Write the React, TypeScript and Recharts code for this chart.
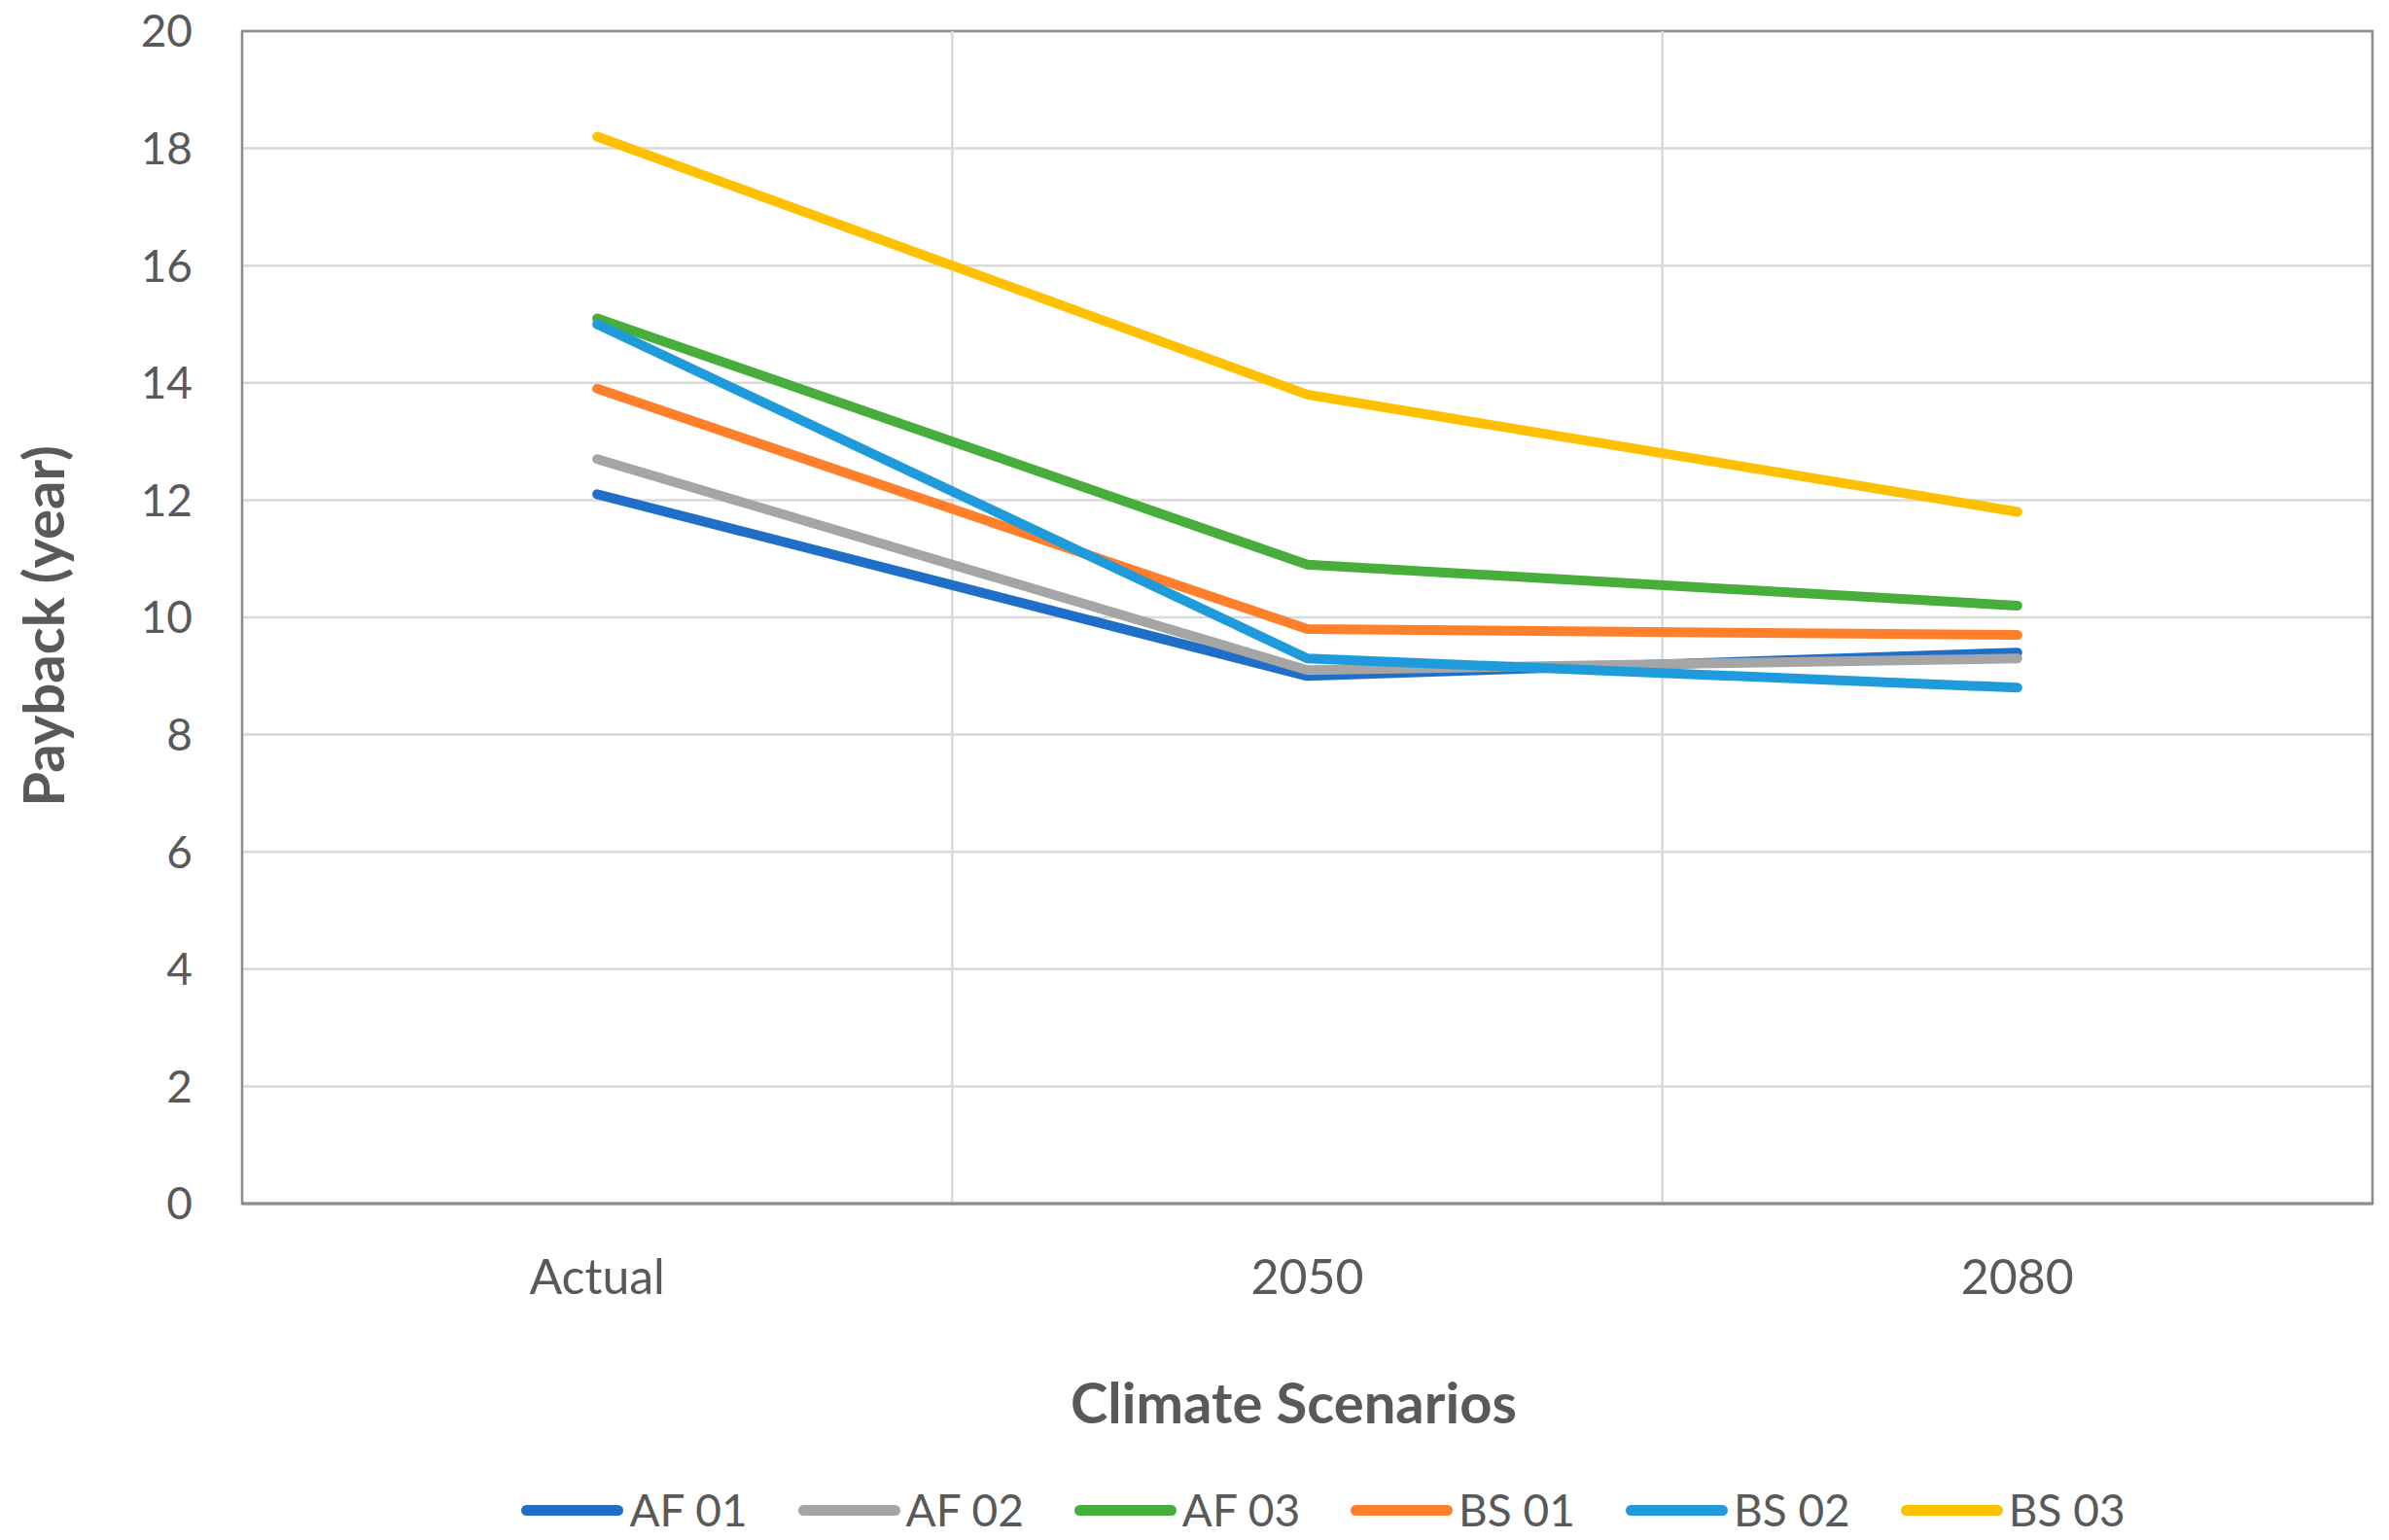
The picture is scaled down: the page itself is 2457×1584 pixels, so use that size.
import React from 'react';
import {
  LineChart,
  Line,
  XAxis,
  YAxis,
  CartesianGrid,
  ReferenceLine,
  ReferenceArea,
  Legend,
} from 'recharts';

const categories = ['Actual', '2050', '2080'];
const af01 = [12.1, 9.0, 9.4];
const af02 = [12.7, 9.1, 9.3];
const af03 = [15.1, 10.9, 10.2];
const bs01 = [13.9, 9.8, 9.7];
const bs02 = [15.0, 9.3, 8.8];
const bs03 = [18.2, 13.8, 11.8];
const yTicks = [0, 2, 4, 6, 8, 10, 12, 14, 16, 18, 20];
const seriesNames = ['AF 01', 'AF 02', 'AF 03', 'BS 01', 'BS 02', 'BS 03'];
const seriesValues = [af01, af02, af03, bs01, bs02, bs03];
const seriesColors = ['#1F6FC9', '#A5A5A5', '#47AD3B', '#FF7F2A', '#1F9ADB', '#FFC000'];
// category index positions and band edges on the index axis
const categoryIndex = [0, 1, 2];
const xDomain = [-0.5, 2.5];
const bandBoundaries = [0.5, 1.5];

const data = categories.map((category, i) => {
  const row: Record<string, string | number> = { category, pos: categoryIndex[i] };
  seriesNames.forEach((name, s) => {
    row[name] = seriesValues[s][i];
  });
  return row;
});

const FONT = 'Lato, "Open Sans", sans-serif';
const TEXT = '#595959';

const YTitle = (props: any) => {
  const { viewBox } = props;
  const cx = viewBox.x + 35;
  const cy = viewBox.y + viewBox.height / 2 + 9;
  return (
    <text
      x={cx}
      y={cy}
      transform={`rotate(-90 ${cx} ${cy})`}
      textAnchor="middle"
      dominantBaseline="central"
      fontFamily={FONT}
      fontWeight={700}
      fontSize={58}
      fill={TEXT}
    >
      Payback (year)
    </text>
  );
};

const XTitle = (props: any) => {
  const { viewBox } = props;
  const cx = viewBox.x + viewBox.width / 2 - 14;
  const cy = viewBox.y + 203;
  return (
    <text
      x={cx}
      y={cy}
      textAnchor="middle"
      dominantBaseline="central"
      fontFamily={FONT}
      fontWeight={700}
      fontSize={58}
      fill={TEXT}
    >
      Climate Scenarios
    </text>
  );
};

const LegendContent = (props: any) => {
  const { payload } = props;
  return (
    <div
      style={{
        display: 'flex',
        justifyContent: 'center',
        alignItems: 'center',
        height: 46,
        paddingLeft: 274,
        fontFamily: FONT,
        fontSize: 46,
        color: TEXT,
      }}
    >
      {(payload || []).map((entry: any, i: number) => (
        <div
          key={entry.value}
          style={{ display: 'flex', alignItems: 'center', marginLeft: i === 0 ? 0 : 52 }}
        >
          <div
            style={{
              width: 105,
              height: 11,
              borderRadius: 6,
              background: entry.color,
              marginRight: 6,
            }}
          />
          <span style={{ lineHeight: '46px' }}>{entry.value}</span>
        </div>
      ))}
    </div>
  );
};

export default function App() {
  return (
    <LineChart
      width={2441}
      height={1568}
      data={data}
      margin={{ top: 24, right: 9, bottom: 0, left: 0 }}
    >
      <CartesianGrid vertical={false} stroke="#D9D9D9" strokeWidth={2.5} />
      <XAxis
        dataKey="pos"
        type="number"
        domain={xDomain}
        allowDataOverflow
        ticks={categoryIndex}
        interval={0}
        tickFormatter={(v: number) => categories[v] ?? ''}
        height={292}
        tickLine={false}
        tickSize={0}
        tickMargin={57}
        axisLine={{ stroke: '#8C8C8C', strokeWidth: 3 }}
        tick={{ fontFamily: FONT, fontSize: 50, fill: TEXT }}
        label={<XTitle />}
      />
      <YAxis
        width={241}
        domain={[0, 20]}
        ticks={yTicks}
        interval={0}
        tickLine={false}
        tickSize={0}
        tickMargin={51}
        axisLine={false}
        tick={{ fontFamily: FONT, fontSize: 46, fill: TEXT }}
        label={<YTitle />}
      />
      {bandBoundaries.map((b) => (
        <ReferenceLine key={b} x={b} stroke="#D9D9D9" strokeWidth={2.5} />
      ))}
      <ReferenceArea
        x1={xDomain[0]}
        x2={xDomain[1]}
        y1={0}
        y2={20}
        fill="none"
        fillOpacity={0}
        stroke="#8C8C8C"
        strokeWidth={2.5}
      />
      {seriesNames.map((name, s) => (
        <Line
          key={name}
          dataKey={name}
          name={name}
          stroke={seriesColors[s]}
          strokeWidth={10}
          strokeLinecap="round"
          strokeLinejoin="round"
          dot={false}
          activeDot={false}
          isAnimationActive={false}
        />
      ))}
      <Legend verticalAlign="bottom" height={46} content={<LegendContent />} />
    </LineChart>
  );
}
